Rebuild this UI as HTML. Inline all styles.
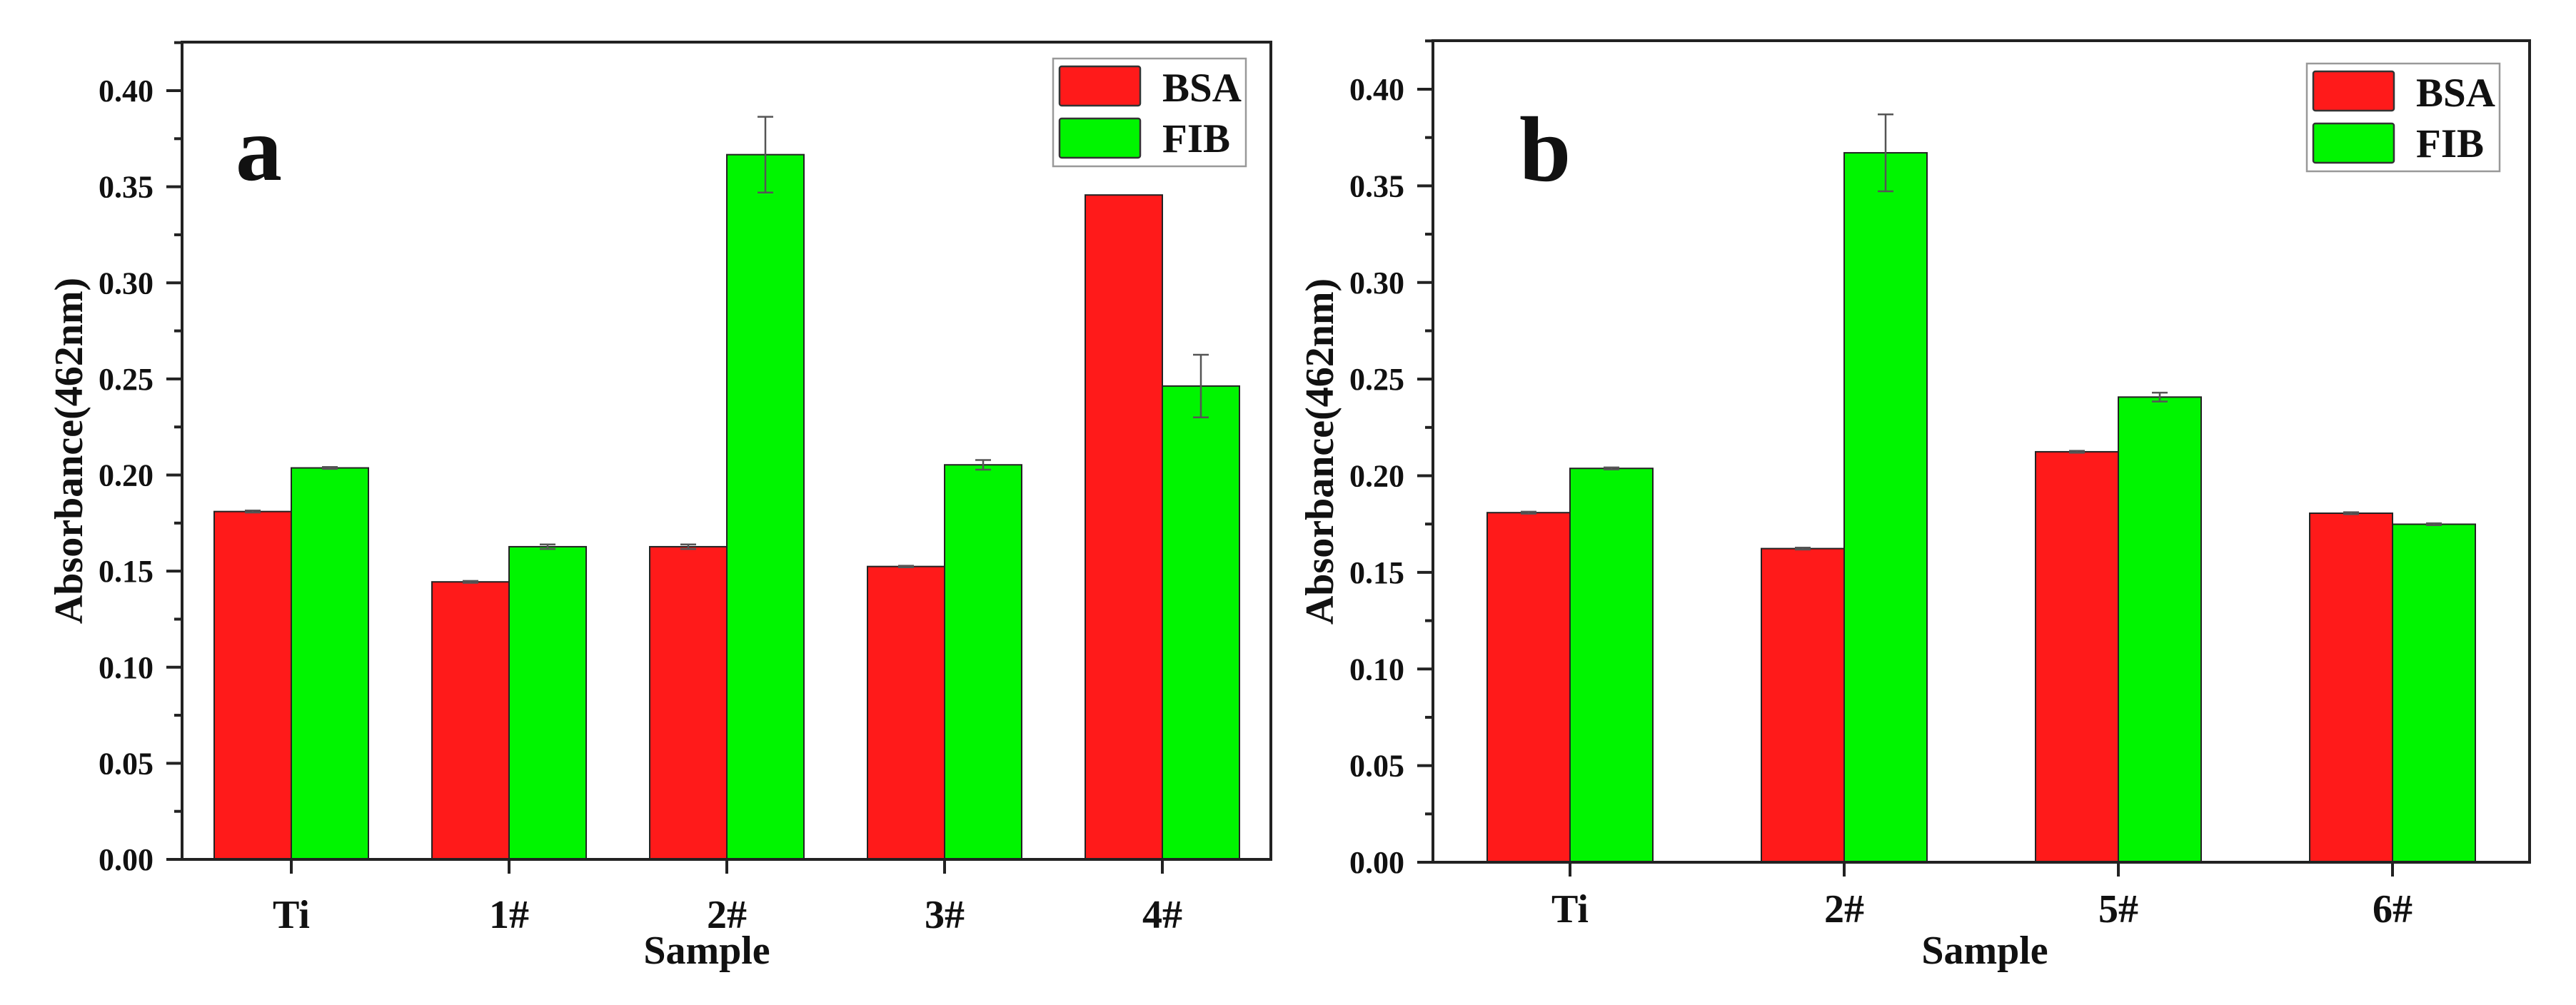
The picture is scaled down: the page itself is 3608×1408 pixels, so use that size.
<!DOCTYPE html>
<html><head><meta charset="utf-8"><style>
html,body{margin:0;padding:0;background:#fff;}
svg{display:block;}
text{font-family:"Liberation Serif",serif;font-weight:bold;fill:#111;}
</style></head><body>
<svg id="chart" width="3608" height="1408" viewBox="0 0 3608 1408" xmlns="http://www.w3.org/2000/svg"></svg>
<script>
const catsA = ["Ti","1#","2#","3#","4#"];
const bsaA = [0.181,0.1444,0.1627,0.1524,0.3457];
const fibA = [0.2037,0.1627,0.3667,0.2053,0.2463];
const bsaErrA = [0.0005,0.0005,0.0012,0.0004,0];
const fibErrA = [0.0005,0.0012,0.0197,0.0025,0.0163];
const catsB = ["Ti","2#","5#","6#"];
const bsaB = [0.1809,0.1623,0.2124,0.1806];
const fibB = [0.2038,0.3671,0.2407,0.1749];
const bsaErrB = [0.0005,0.0005,0.0005,0.0005];
const fibErrB = [0.0005,0.0199,0.0023,0.0005];
const yTicks = [0,0.05,0.10,0.15,0.20,0.25,0.30,0.35,0.40];
const yTickLabels = ["0.00","0.05","0.10","0.15","0.20","0.25","0.30","0.35","0.40"];
const seriesNames = ["BSA","FIB"];

const NS="http://www.w3.org/2000/svg";
const svg=document.getElementById('chart');
function mk(tag,attrs,parent){const e=document.createElementNS(NS,tag);for(const k in attrs)e.setAttribute(k,attrs[k]);(parent||svg).appendChild(e);return e;}

function drawPanel(o){
  const g=mk('g',{});
  
  
  const L=o.left,R=o.right,T=o.top,B=o.bottom;
  const y=v=>B-v/0.40*(B-o.y40);
  const n=o.cats.length;
  const x=i=>o.firstX+i*o.step;
  const drawBar=(val,err,xl,col,nm)=>{
    const r=mk('rect',{x:xl,y:y(val),width:o.bw,height:B-y(val),fill:col,stroke:'#222','stroke-width':2},g);
    
    
    if(err>0){
      const cx=xl+o.bw/2;
      const eb=mk('path',{d:`M${cx} ${y(val+err)}V${y(val-err)}M${cx-11} ${y(val+err)}H${cx+11}M${cx-11} ${y(val-err)}H${cx+11}`,stroke:'#555','stroke-width':2.5,fill:'none'},g);
      
      
    }
  };
  for(let i=0;i<n;i++){
    drawBar(o.bsa[i],o.bsaErr[i],x(i)-o.bw,'#ff1a1a','bsa-bar-'+o.cats[i]);
    drawBar(o.fib[i],o.fibErr[i],x(i),'#00f500','fib-bar-'+o.cats[i]);
  }
  const fr=mk('rect',{x:L,y:T,width:R-L,height:B-T,fill:'none',stroke:'#222','stroke-width':4},g);
  
  
  for(let k=0;k<yTicks.length;k++){
    const yy=y(yTicks[k]);
    const t=mk('line',{x1:L-22,x2:L,y1:yy,y2:yy,stroke:'#222','stroke-width':4},g);
    
    
    const m=y(yTicks[k]+0.025);
    if(m>T){mk('line',{x1:L-11,x2:L,y1:m,y2:m,stroke:'#222','stroke-width':4},g);}
    const lb=mk('text',{x:L-40,y:yy+15,'text-anchor':'end','font-size':44},g);
    lb.textContent=yTickLabels[k];
    
    
  }
  for(let i=0;i<n;i++){
    mk('line',{x1:x(i),x2:x(i),y1:B,y2:B+20,stroke:'#222','stroke-width':4},g);
    const lb=mk('text',{x:x(i),y:o.catBase,'text-anchor':'middle','font-size':56},g);
    lb.textContent=o.cats[i];
    
    
  }
  const xt=mk('text',{x:o.sampleX,y:o.sampleBase,'text-anchor':'middle','font-size':56},g);
  xt.textContent='Sample';
  
  
  const yc=(T+B)/2;
  const yt=mk('text',{x:0,y:0,'text-anchor':'middle','font-size':56,transform:`translate(${L-140},${yc}) rotate(-90)`},g);
  yt.textContent='Absorbance(462nm)';
  
  
  const pl=mk('text',{x:o.letterX,y:o.letterY,'font-size':130},g);
  pl.textContent=o.id;
  
  
  const lg=mk('g',{},g);
  
  
  const Lx=o.legX,Ly=o.legY;
  mk('rect',{x:Lx,y:Ly,width:270,height:151,fill:'#fff',stroke:'#999','stroke-width':2.5},lg);
  const cols=['#ff1a1a','#00f500'];
  for(let s=0;s<2;s++){
    const e=mk('g',{},lg);
    
    
    mk('rect',{x:Lx+9,y:Ly+11+s*73,width:113,height:55,rx:3,fill:cols[s],stroke:'#333','stroke-width':2.5},e);
    const tx=mk('text',{x:Lx+153,y:Ly+60+s*71,'font-size':57},e);
    tx.textContent=seriesNames[s];
  }
}
drawPanel({id:'a',cats:catsA,bsa:bsaA,fib:fibA,bsaErr:bsaErrA,fibErr:fibErrA,
  left:255,right:1780,top:59,bottom:1204,y40:127,firstX:408,step:305,bw:108,
  catBase:1300,sampleX:990,sampleBase:1350,letterX:330,letterY:252,legX:1475,legY:82});
drawPanel({id:'b',cats:catsB,bsa:bsaB,fib:fibB,bsaErr:bsaErrB,fibErr:fibErrB,
  left:2007,right:3543,top:57,bottom:1208,y40:125,firstX:2199,step:384,bw:116,
  catBase:1292,sampleX:2780,sampleBase:1350,letterX:2128,letterY:253,legX:3231,legY:89});
</script>
</body></html>
